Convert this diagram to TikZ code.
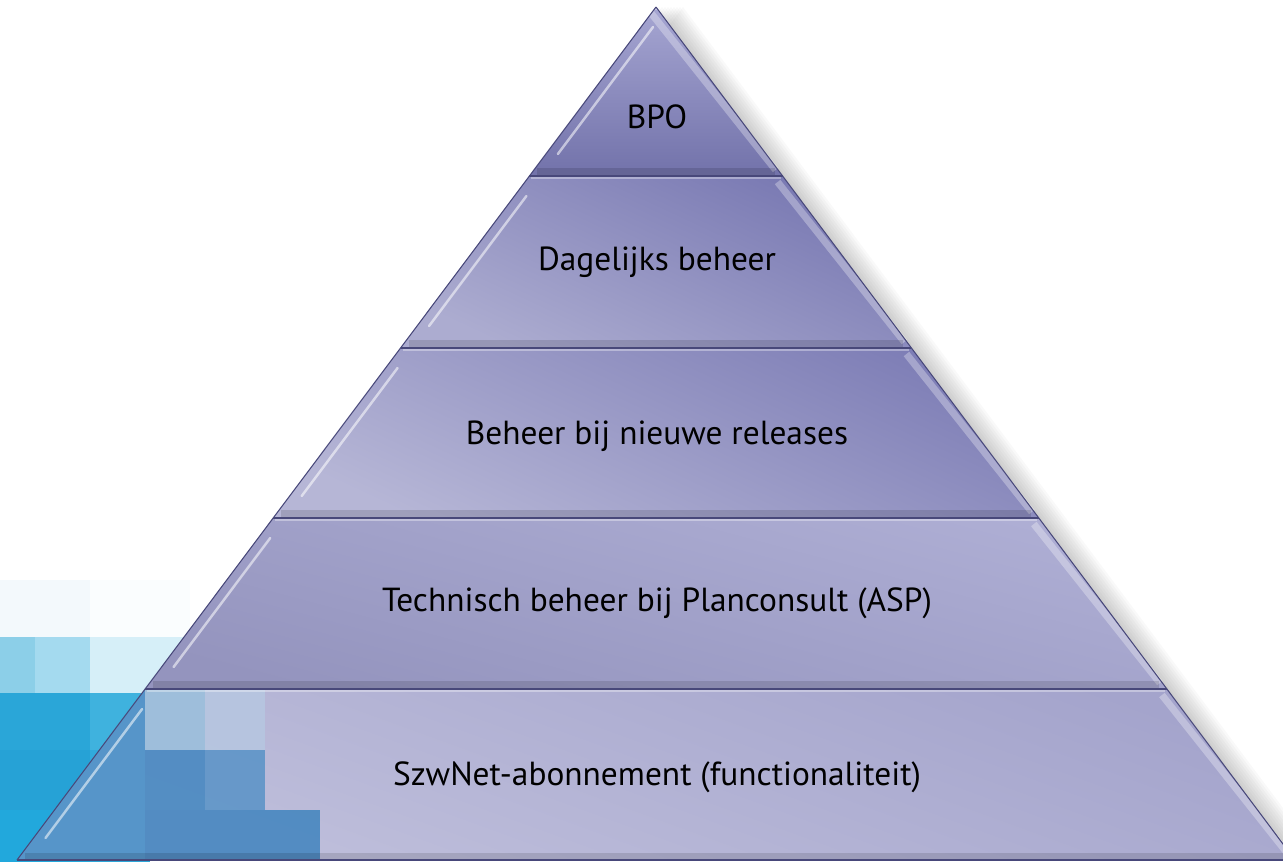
\documentclass[tikz,border=0pt]{standalone}
\usepackage{fontspec}
\newfontfamily\pyrfont{PT Sans}
\usetikzlibrary{calc}

\definecolor{bpoT}{HTML}{A6A6D2}
\definecolor{bpoB}{HTML}{7272AA}
\definecolor{dagT}{HTML}{7878B2}
\definecolor{dagB}{HTML}{ACACD0}
\definecolor{relT}{HTML}{7E7EB6}
\definecolor{relB}{HTML}{B6B6D6}
\definecolor{aspT}{HTML}{AEAED4}
\definecolor{aspB}{HTML}{9494BE}
\definecolor{szwT}{HTML}{A4A4CC}
\definecolor{szwB}{HTML}{C0C0DC}
\definecolor{edgedark}{HTML}{48487A}

\begin{document}
\begin{tikzpicture}[x=0.02cm, y=-0.02cm,
    every node/.style={font=\pyrfont\fontsize{19}{22}\selectfont, text=black},
    sepline/.style={draw=edgedark, line width=0.9pt},
    gloss/.style={draw=white, opacity=0.55, line width=1.4pt, line cap=round}]
    \useasboundingbox (0,0) rectangle (1283,862);
    \clip (0,0) rectangle (1283,862);

    % tiles in the corner
    \foreach \xa/\ya/\xb/\yb/\c in {0/580/90/637/F3F9FC, 90/580/190/637/FAFDFE,
        0/637/35/693/8CCFE8, 35/637/90/693/A4DAEF, 90/637/190/693/D6EFF8,
        0/693/90/750/2AA6D8, 90/693/150/750/3FB2DE, 0/750/90/810/26A2D6,
        90/750/150/810/30AADC, 0/810/90/862/22A8DC, 90/810/150/862/2CA6D8}{
        \definecolor{tilecol}{HTML}{\c}
        \fill[tilecol] (\xa,\ya) rectangle (\xb,\yb);
    }

    % soft shadow
    \foreach \s in {3,6,...,27}
        \fill[black, opacity=0.025] (656+\s,7) -- (1295+\s,860) -- (17+\s,860) -- cycle;

    % layers
    \foreach \ya/\yb/\ct/\cb/\ang in {7/176/bpoT/bpoB/0, 176/348/dagT/dagB/-25,
        348/518/relT/relB/-25, 518/689/aspT/aspB/-15, 689/860/szwT/szwB/-20}{
        \pgfmathsetmacro\wa{0.74912*(\ya-7)}
        \pgfmathsetmacro\wb{0.74912*(\yb-7)}
        \shade[top color=\ct, bottom color=\cb, shading angle=\ang]
            (656-\wa,\ya) -- (656+\wa,\ya) -- (656+\wb,\yb) -- (656-\wb,\yb) -- cycle;
    }

    % tiles seen through the base
    \begin{scope}
        \clip (145,689) -- (1167,689) -- (1295,860) -- (17,860) -- cycle;
        \foreach \xa/\ya/\xb/\yb/\c in {0/689/145/862/4E92C8,
            145/689/205/750/9CBFDC, 205/689/265/750/B6C6E0,
            145/750/205/810/4C8AC2, 205/750/265/810/6096C8,
            145/810/320/862/4A88C0}{
            \definecolor{tilecol}{HTML}{\c}
            \fill[tilecol, opacity=0.92] (\xa,\ya) rectangle (\xb,\yb);
        }
    \end{scope}

    % bevels and lines
    \foreach \ya/\yb in {7/176, 176/348, 348/518, 518/689, 689/860}{
        \pgfmathsetmacro\wa{0.74912*(\ya-7)}
        \pgfmathsetmacro\wb{0.74912*(\yb-7)}
        \pgfmathsetmacro\wc{0.74912*(\yb-22-7)}
        \pgfmathsetmacro\wd{0.74912*(\ya+20-7)}
        \draw[white, opacity=0.3, line width=4pt]
            (656+\wb-7,\yb-6) -- (656+\wa-5,\ya+6);
        \draw[black, opacity=0.12, line width=4pt]
            (656-\wb+8,\yb-4) -- (656+\wb-8,\yb-4);
        \draw[gloss] (656-\wc+12,\yb-22) -- (656-\wd+12,\ya+20);
        \draw[white, opacity=0.35, line width=0.8pt]
            (656-\wa+2,\ya+2) -- (656+\wa-2,\ya+2);
        \draw[edgedark, line width=0.6pt]
            (656-\wb,\yb) -- (656-\wa,\ya) (656+\wa,\ya) -- (656+\wb,\yb);
    }
    \foreach \y in {176, 348, 518, 689, 860}{
        \pgfmathsetmacro\w{0.74912*(\y-7)}
        \draw[sepline] (656-\w,\y) -- (656+\w,\y);
    }

    % labels
    \node (bpo) at (657,117) {BPO};
    \node (dag) at (657,262) {Dagelijks beheer};
    \node (rel) at (657,436) {Beheer bij nieuwe releases};
    \node (asp) at (657,603) {Technisch beheer bij Planconsult (ASP)};
    \node (szw) at (657,777) {SzwNet-abonnement (functionaliteit)};
\end{tikzpicture}
\end{document}
